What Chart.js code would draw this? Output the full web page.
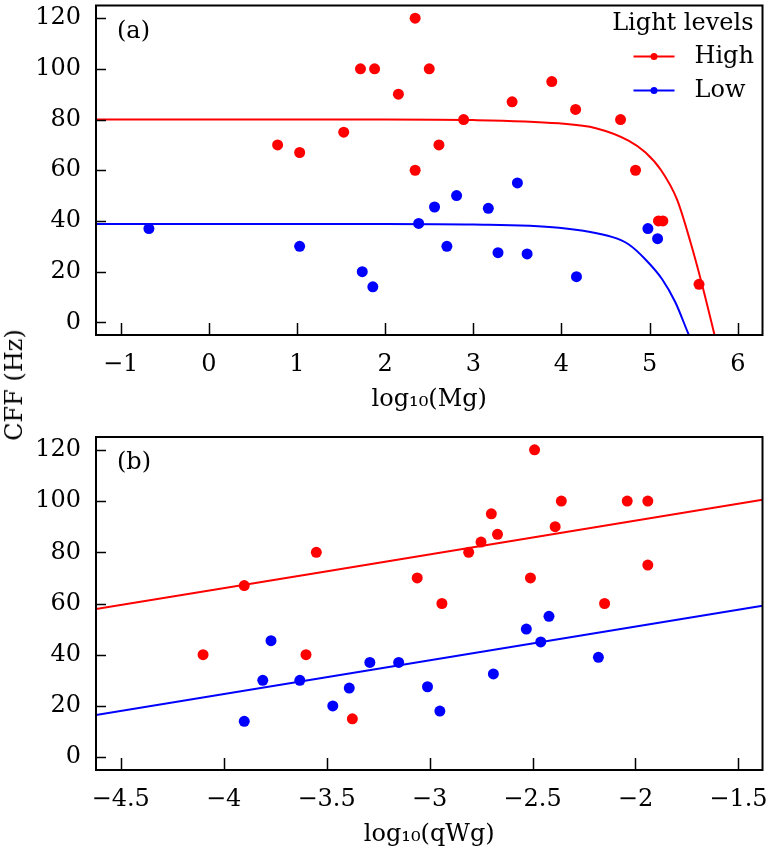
<!DOCTYPE html>
<html>
<head>
<meta charset="utf-8">
<script src="https://cdn.jsdelivr.net/npm/chart.js@4.4.0/dist/chart.umd.min.js"></script>
<style>
  body { margin: 0; background: #fff; }
  #wrap { position: relative; width: 768px; height: 857px; }
  #boxA { position: absolute; left: 0; top: 0; }
  #boxB { position: absolute; left: 0; top: 420px; }
  #ylab {
    position: absolute; left: 14px; top: 385px;
    transform: translate(-50%, -50%) rotate(-90deg);
    font: 24px 'DejaVu Serif'; color: #000; white-space: nowrap;
  }
</style>
</head>
<body>
<div id="wrap">
  <canvas id="boxA" width="768" height="420"></canvas>
  <canvas id="boxB" width="768" height="437"></canvas>
  <div id="ylab">CFF (Hz)</div>
</div>
<script>
// panel (a): CFF against log10(Mg)
const highMgX = [0.78, 1.03, 1.53, 1.72, 1.88, 2.15, 2.34, 2.34, 2.50, 2.61, 2.89, 3.44, 3.89, 4.16, 4.67, 4.84, 5.10, 5.15, 5.56];
const highMgY = [70, 67, 75, 100, 100, 90, 120, 60, 100, 70, 80, 87, 95, 84, 80, 60, 40, 40, 15];
const lowMgX = [-0.68, 1.03, 1.74, 1.86, 2.38, 2.56, 2.70, 2.81, 3.17, 3.28, 3.50, 3.61, 4.17, 4.98, 5.09];
const lowMgY = [37, 30, 20, 14, 39, 45.5, 30, 50, 45, 27.5, 55, 27, 18, 37, 33];

// fitted curves
const fitHighMgX = [-1.28, 2, 3, 3.97, 4.39, 4.76, 4.95, 5.13, 5.31, 5.46, 5.59, 5.75];
const fitHighMgY = [80, 80, 79.8, 78.5, 76.6, 71.7, 67.1, 60, 48.5, 32, 15.5, -7];
const fitLowMgX = [-1.28, 2, 3, 3.97, 4.58, 4.76, 4.95, 5.14, 5.29, 5.44, 5.47];
const fitLowMgY = [38.8, 38.8, 38.6, 37.3, 33.6, 30.8, 24.9, 17.1, 8.0, -4.6, -7];

// panel (b): CFF against log10(qWg)
const highQX = [-4.10, -3.90, -3.60, -3.55, -3.375, -3.06, -2.94, -2.81, -2.75, -2.70, -2.67, -2.51, -2.49, -2.39, -2.36, -2.15, -2.04, -1.94, -1.94];
const highQY = [40, 67, 40, 80, 15, 70, 60, 80, 84, 95, 87, 70, 120, 90, 100, 60, 100, 100, 75];
const lowQX = [-3.90, -3.81, -3.77, -3.63, -3.47, -3.39, -3.29, -3.15, -3.01, -2.95, -2.69, -2.53, -2.46, -2.42, -2.18];
const lowQY = [14, 30, 45.5, 30, 20, 27, 37, 37, 27.5, 18, 32.5, 50, 45, 55, 39];

const fitQX = [-4.62, -1.383];
const fitHighQY = [57.8, 100.5];
const fitLowQY = [16.5, 59.1];

const legendTitle = 'Light levels';
const seriesNames = ['High', 'Low'];
const RED = '#ff0000';
const BLUE = '#0000ff';
const FONT = { family: 'DejaVu Serif', size: 24 };

function toPoints(xs, ys) {
    return xs.map((x, i) => ({ x: x, y: ys[i] }));
}

// frame, inward ticks, panel letter and legend
const framePlugin = {
    id: 'frame',
    afterDatasetsDraw(chart, args, opts) {
        const { ctx, chartArea: a, scales: { x, y } } = chart;
        ctx.save();
        ctx.strokeStyle = '#000';
        ctx.lineWidth = 2;
        ctx.strokeRect(a.left, a.top, a.right - a.left, a.bottom - a.top);
        ctx.lineWidth = 1.5;
        ctx.beginPath();
        y.ticks.forEach(t => {
            const p = Math.round(y.getPixelForValue(t.value)) + 0.5;
            ctx.moveTo(a.left, p);
            ctx.lineTo(a.left + 10, p);
        });
        x.ticks.forEach(t => {
            const p = Math.round(x.getPixelForValue(t.value)) + 0.5;
            ctx.moveTo(p, a.bottom);
            ctx.lineTo(p, a.bottom - 12);
        });
        ctx.stroke();

        ctx.font = '24px "DejaVu Serif"';
        ctx.fillStyle = '#000';
        ctx.textBaseline = 'middle';
        ctx.textAlign = 'left';
        ctx.fillText(opts.label, a.left + 21, a.top + 26);

        if (opts.legend) {
            ctx.textAlign = 'right';
            ctx.fillText(legendTitle, a.right - 9, a.top + 18);
            [0, 1].forEach(i => {
                const ds = chart.data.datasets[i];
                const yy = a.top + 51 + i * 34;
                ctx.strokeStyle = ds.backgroundColor;
                ctx.fillStyle = ds.backgroundColor;
                ctx.lineWidth = 2;
                ctx.beginPath();
                ctx.moveTo(a.right - 129, yy);
                ctx.lineTo(a.right - 88, yy);
                ctx.stroke();
                ctx.beginPath();
                ctx.arc(a.right - 108.5, yy, 3.5, 0, Math.PI * 2);
                ctx.fill();
                ctx.fillStyle = '#000';
                ctx.textAlign = 'left';
                ctx.fillText(ds.label, a.right - 68, yy);
            });
        }
        ctx.restore();
    }
};

function buildChart(id, cfg) {
    const ctx = document.getElementById(id).getContext('2d');
    return new Chart(ctx, {
        type: 'scatter',
        data: {
            datasets: [
                { label: seriesNames[0], data: cfg.high, backgroundColor: RED, borderColor: RED, pointRadius: 5.5, borderWidth: 0 },
                { label: seriesNames[1], data: cfg.low, backgroundColor: BLUE, borderColor: BLUE, pointRadius: 5.5, borderWidth: 0 },
                { label: 'fitHigh', data: cfg.fitHigh, showLine: true, borderColor: RED, backgroundColor: RED, borderWidth: 2, pointRadius: 0, cubicInterpolationMode: 'monotone' },
                { label: 'fitLow', data: cfg.fitLow, showLine: true, borderColor: BLUE, backgroundColor: BLUE, borderWidth: 2, pointRadius: 0, cubicInterpolationMode: 'monotone' }
            ]
        },
        options: {
            responsive: false,
            animation: false,
            events: [],
            layout: { padding: { top: cfg.top, right: 3, left: 0, bottom: 0 } },
            plugins: {
                legend: { display: false },
                tooltip: { enabled: false },
                frame: { label: cfg.label, legend: cfg.legend }
            },
            scales: {
                x: {
                    type: 'linear',
                    min: cfg.xmin,
                    max: cfg.xmax,
                    grid: { display: false },
                    border: { display: false },
                    ticks: {
                        stepSize: cfg.xstep,
                        includeBounds: false,
                        padding: 7,
                        maxRotation: 0,
                        color: '#000',
                        font: FONT,
                        callback: v => String(v).replace('-', '\u2212')
                    },
                    title: {
                        display: true,
                        text: cfg.xtitle,
                        color: '#000',
                        font: FONT,
                        padding: { top: 0, bottom: cfg.titlePad }
                    },
                    afterFit: scale => {
                        scale.height = cfg.xHeight;
                        scale.paddingLeft = 0;
                        scale.paddingRight = 0;
                    }
                },
                y: {
                    min: -5,
                    max: 125,
                    grid: { display: false },
                    border: { display: false },
                    ticks: {
                        stepSize: 20,
                        includeBounds: false,
                        padding: 7,
                        color: '#000',
                        font: FONT
                    },
                    afterFit: scale => {
                        scale.width = 96;
                        scale.paddingTop = 0;
                        scale.paddingBottom = 0;
                    }
                }
            }
        },
        plugins: [framePlugin]
    });
}

buildChart('boxA', {
    high: toPoints(highMgX, highMgY),
    low: toPoints(lowMgX, lowMgY),
    fitHigh: toPoints(fitHighMgX, fitHighMgY),
    fitLow: toPoints(fitLowMgX, fitLowMgY),
    xmin: -1.28, xmax: 6.28, xstep: 1,
    xtitle: 'log\u2081\u2080(Mg)',
    top: 2, xHeight: 85, titlePad: 6,
    label: '(a)', legend: true
});

buildChart('boxB', {
    high: toPoints(highQX, highQY),
    low: toPoints(lowQX, lowQY),
    fitHigh: toPoints(fitQX, fitHighQY),
    fitLow: toPoints(fitQX, fitLowQY),
    xmin: -4.62, xmax: -1.383, xstep: 0.5,
    xtitle: 'log\u2081\u2080(qWg)',
    top: 17, xHeight: 87, titlePad: 8,
    label: '(b)', legend: false
});
</script>
</body>
</html>
